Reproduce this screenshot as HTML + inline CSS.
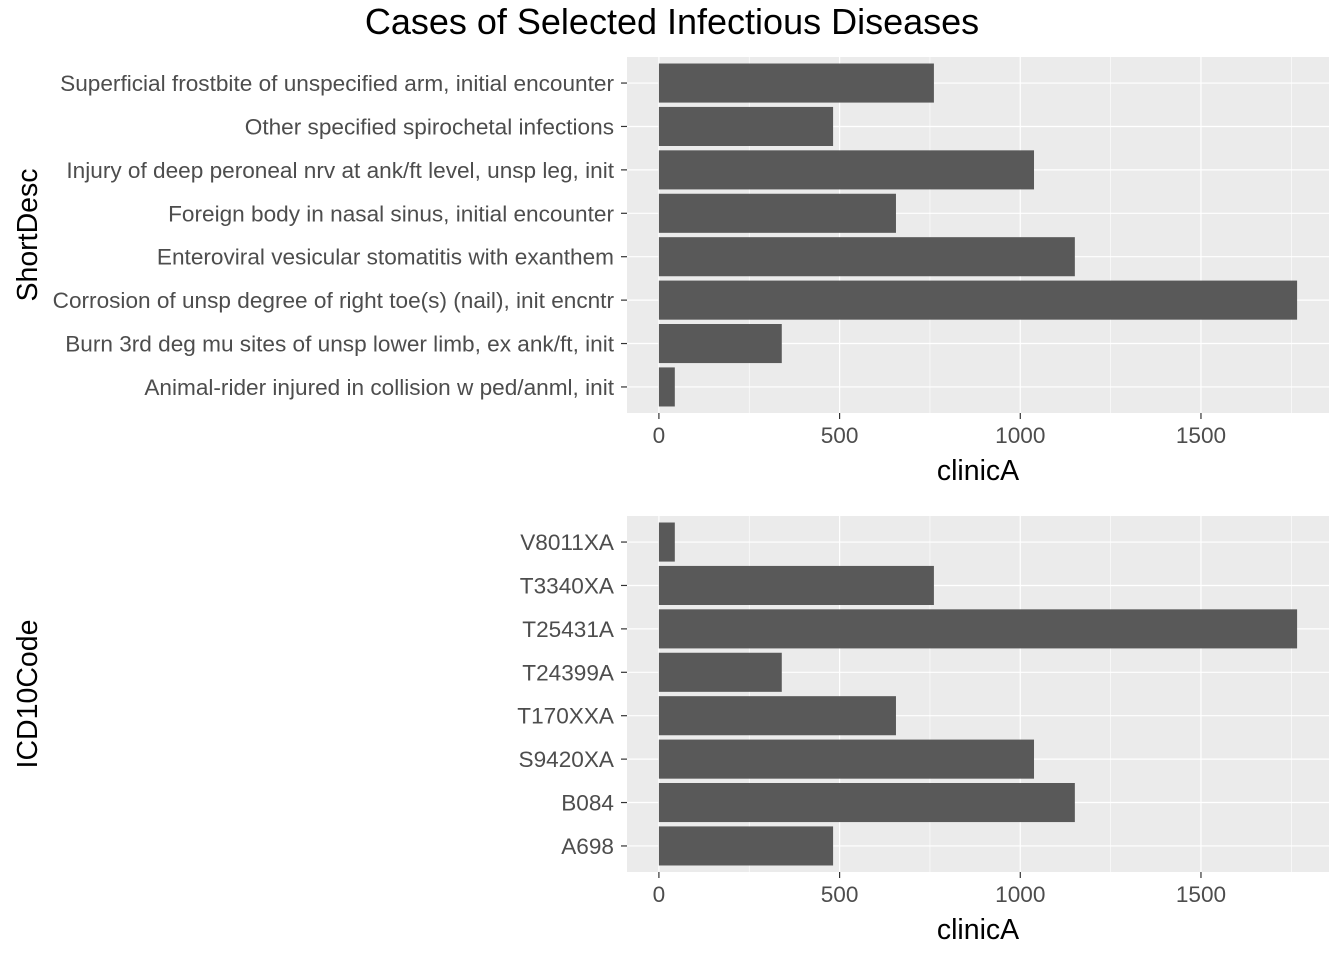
<!DOCTYPE html>
<html><head><meta charset="utf-8">
<style>
html,body{margin:0;padding:0;background:#fff;}
svg{display:block;font-family:"Liberation Sans",Arial,sans-serif;}
</style></head>
<body>
<svg id="chart" width="1344" height="960" viewBox="0 0 1344 960" xmlns="http://www.w3.org/2000/svg">
<text x="672" y="34" text-anchor="middle" font-size="36" fill="#000">Cases of Selected Infectious Diseases</text>
</svg>
<script>
const descCategories = ["Animal-rider injured in collision w ped/anml, init","Burn 3rd deg mu sites of unsp lower limb, ex ank/ft, init","Corrosion of unsp degree of right toe(s) (nail), init encntr","Enteroviral vesicular stomatitis with exanthem","Foreign body in nasal sinus, initial encounter","Injury of deep peroneal nrv at ank/ft level, unsp leg, init","Other specified spirochetal infections","Superficial frostbite of unspecified arm, initial encounter"];
const descValues = [44,340,1766,1151,656,1038,482,761];
const codeCategories = ["A698","B084","S9420XA","T170XXA","T24399A","T25431A","T3340XA","V8011XA"];
const codeValues = [482,1151,1038,656,340,1766,761,44];
const xTicks = [0,500,1000,1500];
const xMinor = [250,750,1250,1750];

const NS="http://www.w3.org/2000/svg";
const svg=document.getElementById('chart');
function mk(tag,attrs,parent){const e=document.createElementNS(NS,tag);for(const k in attrs)e.setAttribute(k,attrs[k]);(parent||svg).appendChild(e);return e;}

function panel(cats,vals,top,bottom,yTitle,key){
  const L=627,R=1329;
  const maxV=Math.max(...vals);
  const lo=-0.05*maxV,hi=maxV*1.05;
  const x=v=>L+(v-lo)/(hi-lo)*(R-L);
  const n=cats.length;
  const step=(bottom-top)/(n-1+1.2);
  const y=i=>bottom-step*(0.6+i);
  const g=mk('g',{});
  
  
  const bg=mk('rect',{x:L,y:top,width:R-L,height:bottom-top,fill:'#EBEBEB'},g);
  
  
  xMinor.forEach(t=>{if(t<=hi){const l=mk('line',{x1:x(t),x2:x(t),y1:top,y2:bottom,stroke:'#fff','stroke-width':0.6},g);
    
    }});
  xTicks.forEach(t=>{const l=mk('line',{x1:x(t),x2:x(t),y1:top,y2:bottom,stroke:'#fff','stroke-width':1.2},g);
    
    });
  cats.forEach((c,i)=>{const l=mk('line',{x1:L,x2:R,y1:y(i),y2:y(i),stroke:'#fff','stroke-width':1.2},g);
    
    });
  const bh=step*0.9;
  vals.forEach((v,i)=>{const r=mk('rect',{x:x(0),y:y(i)-bh/2,width:x(v)-x(0),height:bh,fill:'#595959'},g);
    
    });
  cats.forEach((c,i)=>{
    const tk=mk('line',{x1:L-6,x2:L,y1:y(i),y2:y(i),stroke:'#333','stroke-width':1.2},g);
    
    
    const t=mk('text',{x:L-13,y:y(i)+8,'text-anchor':'end','font-size':22.6,fill:'#4D4D4D'},g);
    t.textContent=c;
    
    
  });
  xTicks.forEach(v=>{
    const tk=mk('line',{x1:x(v),x2:x(v),y1:bottom,y2:bottom+6,stroke:'#333','stroke-width':1.2},g);
    
    
    const t=mk('text',{x:x(v),y:bottom+30,'text-anchor':'middle','font-size':22.6,fill:'#4D4D4D'},g);
    t.textContent=v;
    
    
  });
  const xt=mk('text',{x:(L+R)/2,y:bottom+67,'text-anchor':'middle','font-size':28.5,fill:'#000'},g);
  xt.textContent='clinicA';
  
  
  const cy=(top+bottom)/2;
  const yt=mk('text',{x:37,y:cy,'text-anchor':'middle','font-size':28.5,fill:'#000',transform:'rotate(-90 37 '+cy+')'},g);
  yt.textContent=yTitle;
  
  
}
panel(descCategories,descValues,57,413,'ShortDesc','desc');
panel(codeCategories,codeValues,516,872,'ICD10Code','code');
</script>
</body></html>
